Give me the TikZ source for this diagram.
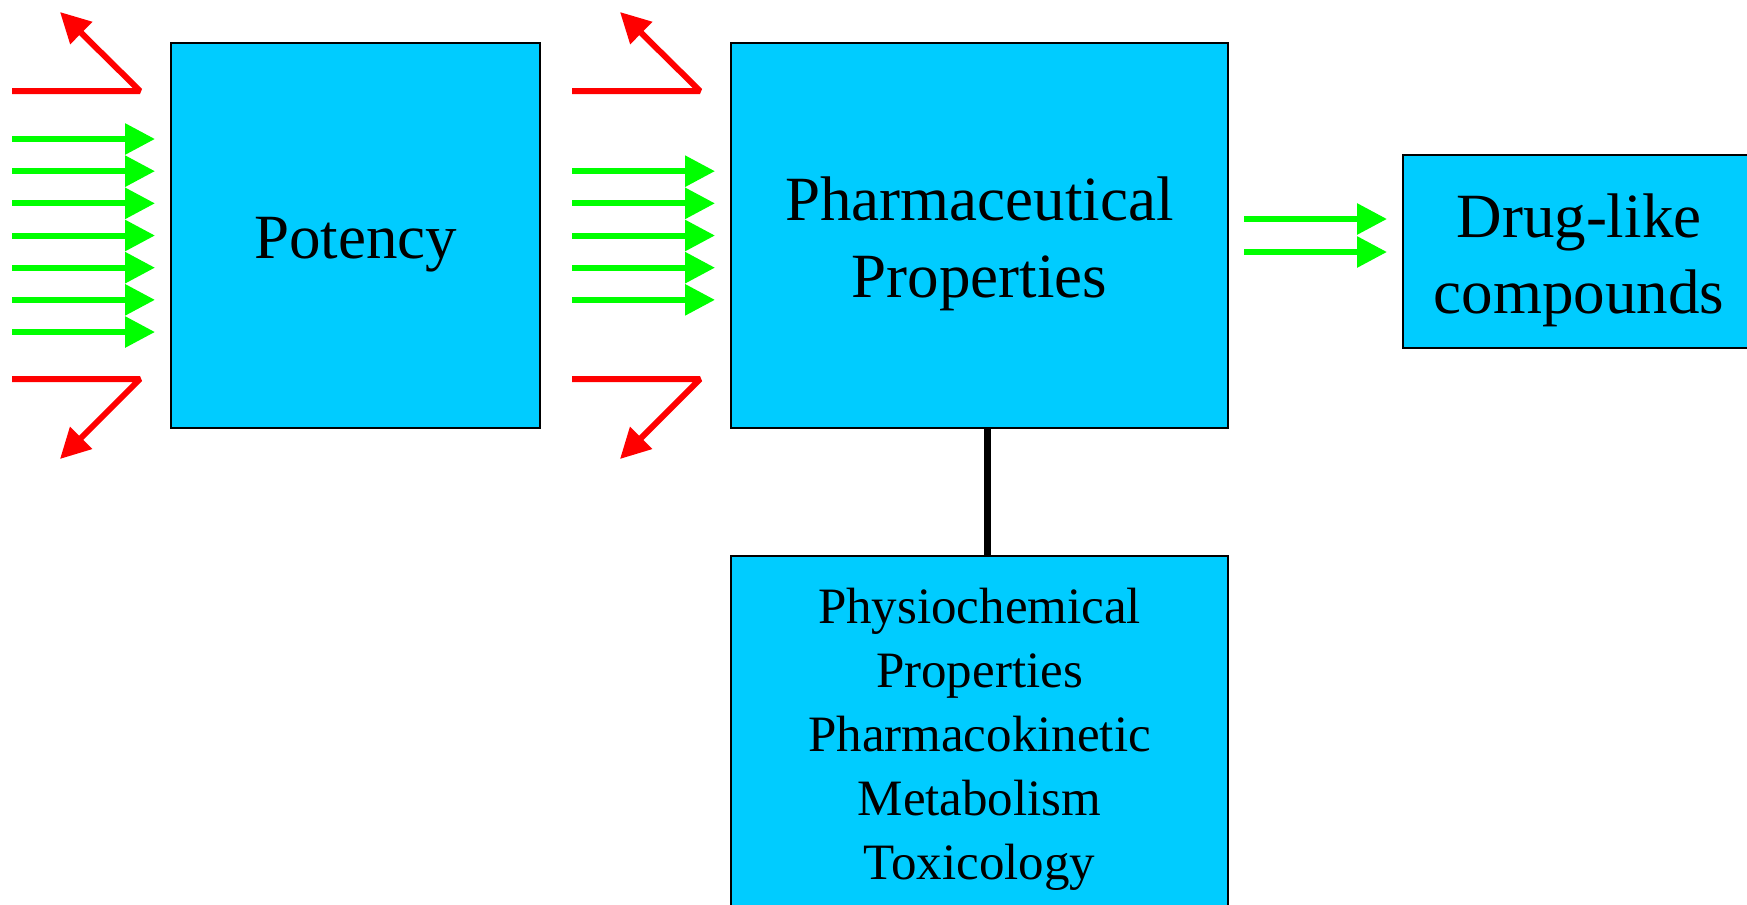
\documentclass[tikz,border=0pt]{standalone}
\usepackage{fontspec}
\setmainfont{Liberation Serif}
\usetikzlibrary{arrows.meta}
\definecolor{boxblue}{RGB}{0,204,255}
\definecolor{arrgreen}{RGB}{0,255,0}
\definecolor{arrred}{RGB}{255,0,0}
\tikzset{
  box/.style={draw=black, line width=0.9pt, fill=boxblue, inner sep=0pt, align=center},
  bigtext/.style={font=\fontsize{31.5}{38.5}\selectfont},
  garrow/.style={draw=arrgreen, line width=3pt, -{Triangle[length=15pt,width=15pt]}},
  rarrow/.style={draw=arrred, line width=3pt, line join=bevel, -{Triangle[length=15pt,width=15pt]}},
  link/.style={draw=black, line width=3.5pt}
}
\begin{document}
\begin{tikzpicture}[x=0.5pt,y=-0.5pt]
\useasboundingbox (0,0) rectangle (1747,905);
% boxes
\node[box, bigtext, minimum width=184.5pt, minimum height=192.5pt] (potency) at (355.5,235.5) {\rule{0pt}{30pt}Potency};
\node[box, bigtext, minimum width=248.5pt, minimum height=192.5pt] (pharma) at (979.5,235.5) {\rule{0pt}{29.9pt}Pharmaceutical\\Properties};
\node[box, font=\fontsize{31.5}{38}\selectfont, minimum width=176pt, minimum height=96.5pt] (drug) at (1579,251.5) {\rule{0pt}{30.4pt}Drug-like\\compounds};
\node[box, font=\fontsize{25.5}{32}\selectfont, anchor=north, inner xsep=0pt, inner ysep=16.1pt, minimum width=248.5pt] (physio) at (979.5,555) {Physiochemical\\Properties\\Pharmacokinetic\\Metabolism\\Toxicology};
% connector
\draw[link] ([xshift=3.75pt]pharma.south) -- ([xshift=3.75pt]physio.north);
% green arrows into Potency
\foreach \i in {0,...,6} {
  \draw[garrow] (12,{139+32.17*\i}) -- (155,{139+32.17*\i});
}
% green arrows into Pharmaceutical Properties
\foreach \i in {1,...,5} {
  \draw[garrow] (572,{139+32.17*\i}) -- (715,{139+32.17*\i});
}
% green arrows into Drug-like compounds
\draw[garrow] (1244,219) -- (1387,219);
\draw[garrow] (1244,252) -- (1387,252);
% red rejected arrows
\draw[rarrow] (12,91) -- (140,91) -- (60,12);
\draw[rarrow] (12,379) -- (140,379) -- (60,459);
\draw[rarrow] (572,91) -- (700,91) -- (620,12);
\draw[rarrow] (572,379) -- (700,379) -- (620,459);
\end{tikzpicture}
\end{document}
